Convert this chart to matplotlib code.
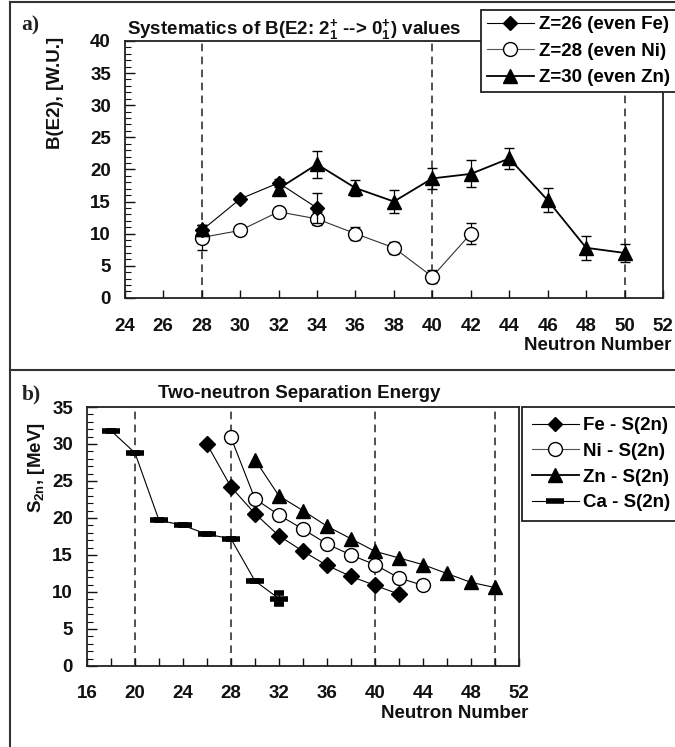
import numpy as np
import matplotlib
matplotlib.use("Agg")
import matplotlib.pyplot as plt
from matplotlib.lines import Line2D
from matplotlib.ticker import MultipleLocator

plt.rcParams['font.family'] = ['Liberation Sans', 'DejaVu Sans']
plt.rcParams['font.weight'] = 'bold'
plt.rcParams['mathtext.fontset'] = 'custom'
plt.rcParams['mathtext.rm'] = 'Liberation Sans:bold'
plt.rcParams['mathtext.bf'] = 'Liberation Sans:bold'
plt.rcParams['mathtext.it'] = 'Liberation Sans:bold'

# ---------------- Panel a data: B(E2) ----------------
fe_be2_n = [28, 30, 32, 34]
fe_be2 = [10.5, 15.4, 17.9, 14.0]
fe_be2_err = [0.9, 0.5, 0.6, 2.4]

ni_be2_n = [28, 30, 32, 34, 36, 38, 40, 42]
ni_be2 = [9.4, 10.5, 13.4, 12.3, 10.0, 7.8, 3.3, 10.0]
ni_be2_err = [1.9, 0.4, 0.4, 1.0, 1.0, 0.9, 1.0, 1.6]

zn_be2_n = [28, 30, 32, 34, 36, 38, 40, 42, 44, 46, 48, 50]
zn_be2 = [10.7, np.nan, 17.0, 20.8, 17.1, 15.0, 18.6, 19.3, 21.7, 15.2, 7.8, 7.0]
zn_be2_err = [0.7, np.nan, 0.8, 2.1, 1.3, 1.8, 1.6, 2.1, 1.6, 1.9, 1.9, 1.4]

be2_magic = [28, 40, 50]

# ---------------- Panel b data: S(2n) ----------------
fe_s2n_n = [26, 28, 30, 32, 34, 36, 38, 40, 42]
fe_s2n = [30.0, 24.2, 20.6, 17.6, 15.5, 13.6, 12.1, 10.9, 9.7]

ni_s2n_n = [28, 30, 32, 34, 36, 38, 40, 42, 44]
ni_s2n = [30.9, 22.6, 20.4, 18.5, 16.5, 15.0, 13.7, 11.9, 10.9]

zn_s2n_n = [30, 32, 34, 36, 38, 40, 42, 44, 46, 48, 50]
zn_s2n = [27.9, 23.0, 21.0, 18.9, 17.2, 15.5, 14.6, 13.7, 12.5, 11.3, 10.6]

ca_s2n_n = [18, 20, 22, 24, 26, 28, 30, 32]
ca_s2n = [31.8, 28.8, 19.7, 19.0, 17.8, 17.2, 11.5, 9.1]
ca_s2n_err = [0, 0, 0, 0, 0, 0, 0, 0.7]

s2n_magic = [20, 28, 40, 50]

W, H = 675, 747
fig = plt.figure(figsize=(6.75, 7.47), dpi=100)
fig.patch.set_facecolor('white')

def fx(px):
    return px / W

def fy(py):
    return 1 - py / H

FS = 13.5

def style_axes(ax, xpad, ypad):
    for s in ax.spines.values():
        s.set_linewidth(1.3)
        s.set_color('#222222')
    ax.tick_params(axis='both', which='both', direction='in', top=False, right=False,
                   labelsize=FS, colors='#111111')
    ax.tick_params(axis='x', which='major', length=6, width=1.0, pad=xpad)
    ax.tick_params(axis='x', which='minor', length=6, width=1.0)
    ax.tick_params(axis='y', which='major', length=7, width=1.0, pad=ypad)
    ax.tick_params(axis='y', which='minor', length=4, width=0.8)
    for lab in ax.get_xticklabels() + ax.get_yticklabels():
        lab.set_fontweight('bold')

# ---------------- Panel a ----------------
axa = fig.add_axes([fx(124.8), fy(297.9), fx(663) - fx(124.8), fy(40.9) - fy(297.9)])
axa.set_xlim(24, 52)
axa.set_ylim(0, 40)
axa.xaxis.set_major_locator(MultipleLocator(2))
axa.yaxis.set_major_locator(MultipleLocator(5))
axa.yaxis.set_minor_locator(MultipleLocator(1))
for m in be2_magic:
    axa.axvline(m, color='#222222', lw=1.1, ls=(0, (5, 3.5)), zorder=1)

cap = 3.8
axa.errorbar(fe_be2_n, fe_be2, yerr=fe_be2_err, color='black', lw=0.8, marker='D', ms=7.5,
             mfc='black', mec='black', capsize=cap, elinewidth=0.9, capthick=1.0, zorder=4)
axa.errorbar(ni_be2_n, ni_be2, yerr=ni_be2_err, color='#333333', lw=0.8, marker='o', ms=10,
             mfc='white', mec='black', mew=1.0, ecolor='black', capsize=cap, elinewidth=0.9,
             capthick=1.0, zorder=3)
axa.errorbar(zn_be2_n, zn_be2, yerr=zn_be2_err, color='black', lw=1.3, marker='^', ms=10,
             mfc='black', mec='black', capsize=cap, elinewidth=0.9, capthick=1.0, zorder=5)
style_axes(axa, xpad=14.5, ypad=10)

# ---------------- Panel b ----------------
axb = fig.add_axes([fx(87), fy(665.9), fx(518.7) - fx(87), fy(407) - fy(665.9)])
axb.set_xlim(16, 52)
axb.set_ylim(0, 35)
axb.xaxis.set_major_locator(MultipleLocator(4))
axb.xaxis.set_minor_locator(MultipleLocator(2))
axb.yaxis.set_major_locator(MultipleLocator(5))
axb.yaxis.set_minor_locator(MultipleLocator(1))
for m in s2n_magic:
    axb.axvline(m, color='#222222', lw=1.1, ls=(0, (5, 3.5)), zorder=1)

axb.plot(fe_s2n_n, fe_s2n, color='black', lw=0.8, marker='D', ms=8, mfc='black', mec='black', zorder=4)
axb.plot(ni_s2n_n, ni_s2n, color='black', lw=0.8, marker='o', ms=10, mfc='white', mec='black',
         mew=1.0, zorder=3)
axb.plot(zn_s2n_n, zn_s2n, color='black', lw=0.8, marker='^', ms=10, mfc='black', mec='black', zorder=5)
axb.errorbar(ca_s2n_n, ca_s2n, yerr=ca_s2n_err, color='black', lw=0.8, marker='_', ms=13, mew=4,
             capsize=cap, elinewidth=0.9, capthick=1.0, zorder=4)
style_axes(axb, xpad=14, ypad=10)

# ---------------- Texts ----------------
fig.text(fx(127), fy(29.2), r"Systematics of B(E2: 2$^{+}_{1}$ --> 0$^{+}_{1}$) values",
         ha='left', va='center', fontsize=FS, fontweight='bold', color='#111111')
fig.text(fx(299), fy(393), "Two-neutron Separation Energy", ha='center', va='center',
         fontsize=FS, fontweight='bold', color='#111111')
fig.text(fx(21.5), fy(25.9), "a)", ha='left', va='center', fontsize=15.5, fontweight='bold',
         family='Liberation Serif', color='#222222')
fig.text(fx(21.5), fy(394), "b)", ha='left', va='center', fontsize=15.5, fontweight='bold',
         family='Liberation Serif', color='#222222')
fig.text(fx(56), fy(37), "B(E2), [W.U.]", rotation=90, ha='center', va='top', fontsize=FS,
         fontweight='bold', color='#111111')
fig.text(fx(36.6), fy(422), r"S$_{2n}$, [MeV]", rotation=90, ha='center', va='top', fontsize=FS,
         fontweight='bold', color='#111111')
fig.text(fx(671.6), fy(345), "Neutron Number", ha='right', va='center', fontsize=FS,
         fontweight='bold', color='#111111')
fig.text(fx(528.6), fy(713), "Neutron Number", ha='right', va='center', fontsize=FS,
         fontweight='bold', color='#111111')

# ---------------- Legends ----------------
h_fe = Line2D([], [], color='black', lw=0.8, marker='D', ms=7.5, mfc='black', mec='black')
h_ni = Line2D([], [], color='#555555', lw=0.8, marker='o', ms=10, mfc='white', mec='black')
h_zn = Line2D([], [], color='black', lw=1.3, marker='^', ms=10, mfc='black', mec='black')
h_ca = Line2D([], [], color='black', lw=0.8, marker='_', ms=13, mew=4)

leg_a = fig.legend([h_fe, h_ni, h_zn], ["Z=26 (even Fe)", "Z=28 (even Ni)", "Z=30 (even Zn)"],
                   loc='upper left', bbox_to_anchor=(fx(481), fy(10.4)), frameon=True,
                   fancybox=False, framealpha=1, edgecolor='#222222', fontsize=FS,
                   handlelength=2.5, handletextpad=0.3, borderpad=0.3, labelspacing=0.5,
                   borderaxespad=0)
leg_a.get_frame().set_linewidth(1.3)
leg_a.set_zorder(20)

leg_b = fig.legend([h_fe, h_ni, h_zn, h_ca], ["Fe - S(2n)", "Ni - S(2n)", "Zn - S(2n)", "Ca - S(2n)"],
                   loc='upper left', bbox_to_anchor=(fx(521.7), fy(407)), frameon=True,
                   fancybox=False, framealpha=1, edgecolor='#222222', fontsize=FS,
                   handlelength=2.5, handletextpad=0.2, borderpad=0.55, labelspacing=0.45,
                   borderaxespad=0)
leg_b.get_frame().set_linewidth(1.3)
leg_b.set_zorder(20)

# ---------------- Outer frame lines ----------------
for (x0, y0, x1, y1) in [(9.5, 2.4, 680, 2.4), (9.5, 2.4, 9.5, 760), (9.5, 370.4, 680, 370.4)]:
    fig.add_artist(Line2D([fx(x0), fx(x1)], [fy(y0), fy(y1)], transform=fig.transFigure,
                          color='#333333', lw=1.5))

fig.savefig("out.png", dpi=100)
